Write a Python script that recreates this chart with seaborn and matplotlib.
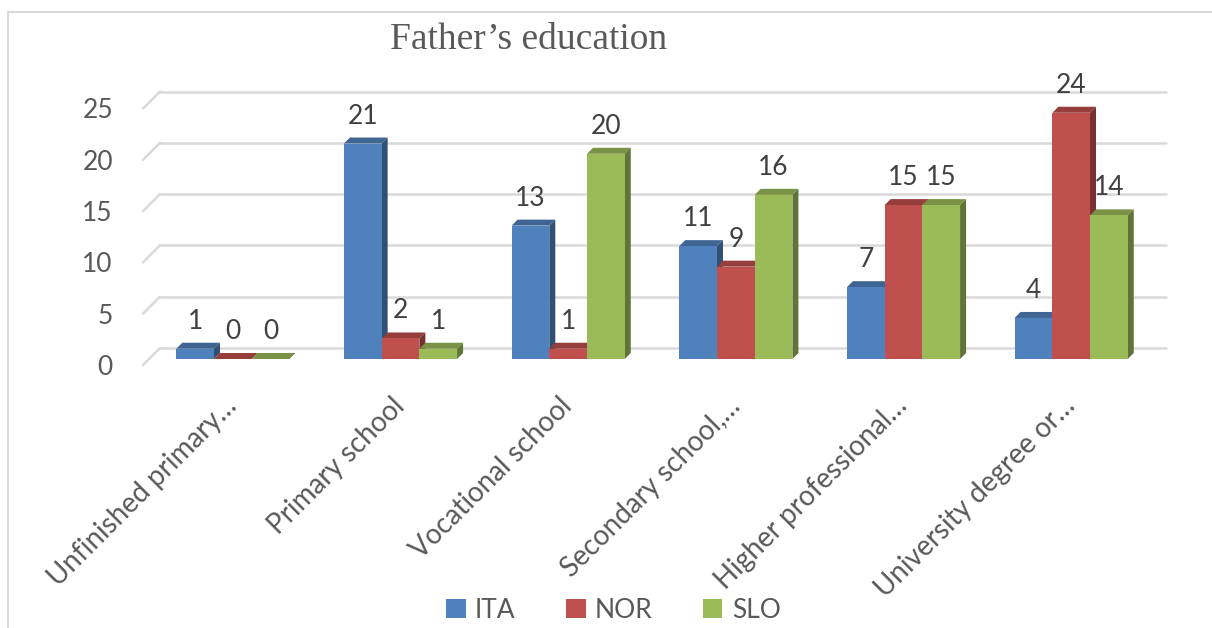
import numpy as np
import pandas as pd
import matplotlib
matplotlib.use("Agg")
import matplotlib.pyplot as plt
import matplotlib.transforms as mtransforms
from matplotlib.patches import Polygon, Patch, Rectangle
from matplotlib.colors import to_rgb
import seaborn as sns

# data
levels = [
    "Unfinished primary…",
    "Primary school",
    "Vocational school",
    "Secondary school,…",
    "Higher professional…",
    "University degree or…",
]
countries = ["ITA", "NOR", "SLO"]
ita = [1, 21, 13, 11, 7, 4]
nor = [0, 2, 1, 9, 15, 24]
slo = [0, 1, 20, 16, 15, 14]
yticks = [0, 5, 10, 15, 20, 25]

colors = ["#4F81BD", "#C0504D", "#9BBB59"]

df = pd.DataFrame(
    {
        "level": levels * 3,
        "country": [c for c in countries for _ in levels],
        "count": ita + nor + slo,
    }
)

sns.set_style("white")
plt.rcParams["font.family"] = ["Lato", "DejaVu Sans"]

W, H, DPI = 1212, 628, 100
fig = plt.figure(figsize=(W / DPI, H / DPI), dpi=DPI)

# axes = front plane of the bars (pixel estimates from reference)
left_px, right_px = 149, 1155
base_px, top_px = 359, 102.5
ax = fig.add_axes(
    [left_px / W, (H - base_px) / H, (right_px - left_px) / W, (base_px - top_px) / H]
)

sns.barplot(
    data=df,
    x="level",
    y="count",
    hue="country",
    palette=colors,
    width=0.675,
    gap=0,
    saturation=1,
    legend=False,
    linewidth=0,
    ax=ax,
    zorder=3,
)
ax.set_xlim(-0.5, len(levels) - 0.5)
ax.set_ylim(0, 25)

# pixel -> data conversion for the fake 3D depth
p0 = ax.transData.transform((0, 0))
p1 = ax.transData.transform((1, 1))
px_x, px_y = p1 - p0


def dx(px):
    return px / px_x


def dy(px):
    return px / px_y


bar_depth = 6
wall_depth = 11
floor_front = 6
grid_color = "#D9D9D9"

# back wall gridlines with slanted stubs from the floor front edge
for v in yticks:
    ax.plot(
        [-0.5 + dx(wall_depth), len(levels) - 0.5 + dx(wall_depth)],
        [v + dy(wall_depth)] * 2,
        color=grid_color, lw=1.8, clip_on=False, zorder=1,
    )
    ax.plot(
        [-0.5 - dx(floor_front), -0.5 + dx(wall_depth)],
        [v - dy(floor_front), v + dy(wall_depth)],
        color=grid_color, lw=1.8, clip_on=False, zorder=1,
    )


def shade(c, f):
    r, g, b = to_rgb(c)
    return (r * f, g * f, b * f)


for patch in ax.patches:
    x, w, h = patch.get_x(), patch.get_width(), patch.get_height()
    fc = patch.get_facecolor()
    top = Polygon(
        [(x, h), (x + w, h), (x + w + dx(bar_depth), h + dy(bar_depth)),
         (x + dx(bar_depth), h + dy(bar_depth))],
        closed=True, facecolor=shade(fc, 0.78), edgecolor="none",
        zorder=2, clip_on=False,
    )
    side = Polygon(
        [(x + w, 0), (x + w + dx(bar_depth), dy(bar_depth)),
         (x + w + dx(bar_depth), h + dy(bar_depth)), (x + w, h)],
        closed=True, facecolor=shade(fc, 0.62), edgecolor="none",
        zorder=2, clip_on=False,
    )
    ax.add_patch(top)
    ax.add_patch(side)
    ax.annotate(
        f"{int(round(h))}",
        (x + w / 2, h),
        xytext=(0, 14.4),
        textcoords="offset points",
        ha="center", va="baseline",
        fontsize=19, color="#404040", zorder=5,
    )

sns.despine(ax=ax, left=True, bottom=True)
ax.set_xlabel("")
ax.set_ylabel("")
ax.set_yticks(yticks)
ax.set_yticklabels([str(v) for v in yticks])
ax.tick_params(axis="y", length=0, pad=26, labelsize=19, labelcolor="#595959")
ax.tick_params(axis="x", length=0, pad=31, labelsize=20, labelcolor="#595959")
ax.grid(False)

down = mtransforms.ScaledTranslation(0, -floor_front / DPI, fig.dpi_scale_trans)
for lab in ax.get_yticklabels():
    lab.set_transform(lab.get_transform() + down)
for lab in ax.get_xticklabels():
    lab.set_rotation(45)
    lab.set_ha("right")
    lab.set_va("center")
    lab.set_rotation_mode("anchor")

fig.text(
    529 / W, 1 - 40 / H, "Father’s education",
    ha="center", va="center", fontsize=27, color="#595959",
    family=["Liberation Serif", "DejaVu Serif"],
)

handles = [Patch(facecolor=c, edgecolor="none") for c in colors]
fig.legend(
    handles, countries,
    loc="center", bbox_to_anchor=(0.506, 1 - 610 / H),
    ncol=3, frameon=False, fontsize=19,
    handlelength=0.75, handleheight=0.75, handletextpad=0.35,
    columnspacing=1.9, labelcolor="#595959",
)

# chart area border
fig.patches.append(
    Rectangle((8 / W, -0.05), 1.1, 1 - 12 / H + 0.05,
              transform=fig.transFigure, facecolor="none",
              edgecolor="#D9D9D9", lw=1.5, zorder=0)
)

fig.savefig("out.png", dpi=DPI, facecolor="white")
